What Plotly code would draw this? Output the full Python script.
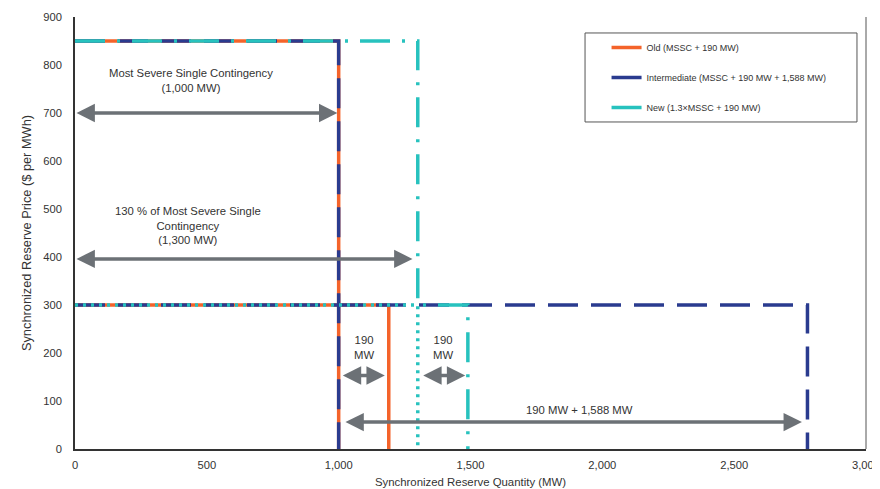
import plotly.graph_objects as go

# ---- data ----
old_high_x = [0, 1000, 1000]
old_high_y = [850, 850, 0]
old_low_x = [0, 1190, 1190]
old_low_y = [300, 300, 0]

int_high_x = [0, 1000, 1000]
int_high_y = [850, 850, 0]
int_low_x = [0, 2778, 2778]
int_low_y = [300, 300, 0]

new_x = [0, 1300, 1300, 1490, 1490]
new_y = [850, 850, 300, 300, 0]
new_dot_x = [0, 1300, 1300]
new_dot_y = [300, 300, 0]

series_names = ["Old (MSSC + 190 MW)",
                "Intermediate (MSSC + 190 MW + 1,588 MW)",
                "New (1.3×MSSC + 190 MW)"]

# arrows: (x_start, x_end, y, label, label_x, label_y)
arrow_x0 = [0, 0, 1010, 1315, 1020]
arrow_x1 = [995, 1280, 1175, 1480, 2757]
arrow_y = [700, 396, 153, 153, 56]
arrow_labels = ["Most Severe Single Contingency<br>(1,000 MW)",
                "130 % of Most Severe Single<br>Contingency<br>(1,300 MW)",
                "190<br>MW", "190<br>MW", "190 MW + 1,588 MW"]
label_x = [440, 428, 1096, 1395, 1915]
label_y = [768, 466, 212, 212, 82]

x_ticks = [0, 500, 1000, 1500, 2000, 2500, 3000]
y_ticks = [0, 100, 200, 300, 400, 500, 600, 700, 800, 900]

ORANGE = "#F4632A"
BLUE = "#2A3B8F"
TEAL = "#27C2BE"
GRAY = "#6C7176"
REG = "Liberation Sans, Arial, sans-serif"

fig = go.Figure()

# Old (solid)
for xs, ys in [(old_high_x, old_high_y), (old_low_x, old_low_y)]:
    fig.add_trace(go.Scatter(x=xs, y=ys, mode="lines", showlegend=False,
                             line=dict(color=ORANGE, width=3.5), hoverinfo="skip"))
# Intermediate (long dash)
for xs, ys in [(int_high_x, int_high_y), (int_low_x, int_low_y)]:
    fig.add_trace(go.Scatter(x=xs, y=ys, mode="lines", showlegend=False,
                             line=dict(color=BLUE, width=3.5, dash="30px,13px"),
                             hoverinfo="skip"))
# New (dash-dot + dotted)
fig.add_trace(go.Scatter(x=new_x, y=new_y, mode="lines", showlegend=False,
                         line=dict(color=TEAL, width=3.5, dash="30px,12px,3px,12px"),
                         hoverinfo="skip"))
fig.add_trace(go.Scatter(x=new_dot_x, y=new_dot_y, mode="lines", showlegend=False,
                         line=dict(color=TEAL, width=3.5, dash="3px,5px"),
                         hoverinfo="skip"))

# legend entries (solid samples)
for name, col in zip(series_names, [ORANGE, BLUE, TEAL]):
    fig.add_trace(go.Scatter(x=[None], y=[None], mode="lines", name=name,
                             legendgroup=name,
                             line=dict(color=col, width=3.5)))

# arrows
for x0, x1, y in zip(arrow_x0, arrow_x1, arrow_y):
    fig.add_annotation(x=x1, y=y, ax=x0, ay=y, xref="x", yref="y",
                       axref="x", ayref="y", text="", showarrow=True,
                       arrowhead=2, startarrowhead=2, arrowside="end+start",
                       arrowsize=1.05, startarrowsize=1.05,
                       arrowwidth=3.5, arrowcolor=GRAY)
for t, lx, ly in zip(arrow_labels, label_x, label_y):
    fig.add_annotation(x=lx, y=ly, xref="x", yref="y", text=t, showarrow=False,
                       font=dict(size=11.3, color="#333333", family=REG))

# legend box
fig.add_shape(type="rect", xref="paper", yref="paper",
              x0=0.6448, x1=0.9886, y0=0.757, y1=0.963,
              line=dict(color="#555555", width=1), fillcolor="white", layer="below")
# right border
fig.add_shape(type="line", xref="paper", yref="paper",
              x0=1, x1=1, y0=0, y1=1, line=dict(color="#555555", width=1))

fig.update_layout(
    width=872, height=481,
    margin=dict(l=67, r=14, t=9, b=40),
    paper_bgcolor="white", plot_bgcolor="white",
    font=dict(family=REG, color="#333333", size=11),
    showlegend=True,
    legend=dict(x=0.672, y=0.963, xanchor="left", yanchor="top",
                bgcolor="rgba(0,0,0,0)", borderwidth=0,
                font=dict(size=9, color="#333333", family=REG),
                tracegroupgap=11, itemwidth=30),
)
fig.update_xaxes(range=[0, 3000], tickvals=x_ticks, tickformat=",",
                 showgrid=False, zeroline=False, showline=True,
                 linecolor="#333333", linewidth=1.5, ticks="", automargin=False,
                 ticklabelstandoff=5,
                 title=dict(text="Synchronized Reserve Quantity (MW)",
                            font=dict(size=11.4, family=REG), standoff=8),
                 tickfont=dict(size=11.2, family=REG))
fig.update_yaxes(range=[0, 900], tickvals=y_ticks,
                 showgrid=False, zeroline=False, showline=True,
                 linecolor="#333333", linewidth=1.5, ticks="", automargin=False,
                 ticklabelstandoff=9,
                 title=dict(text="Synchronized Reserve Price ($ per MWh)",
                            font=dict(size=12.8, family=REG), standoff=9),
                 tickfont=dict(size=11.2, family=REG))

fig.write_html("out.html")
